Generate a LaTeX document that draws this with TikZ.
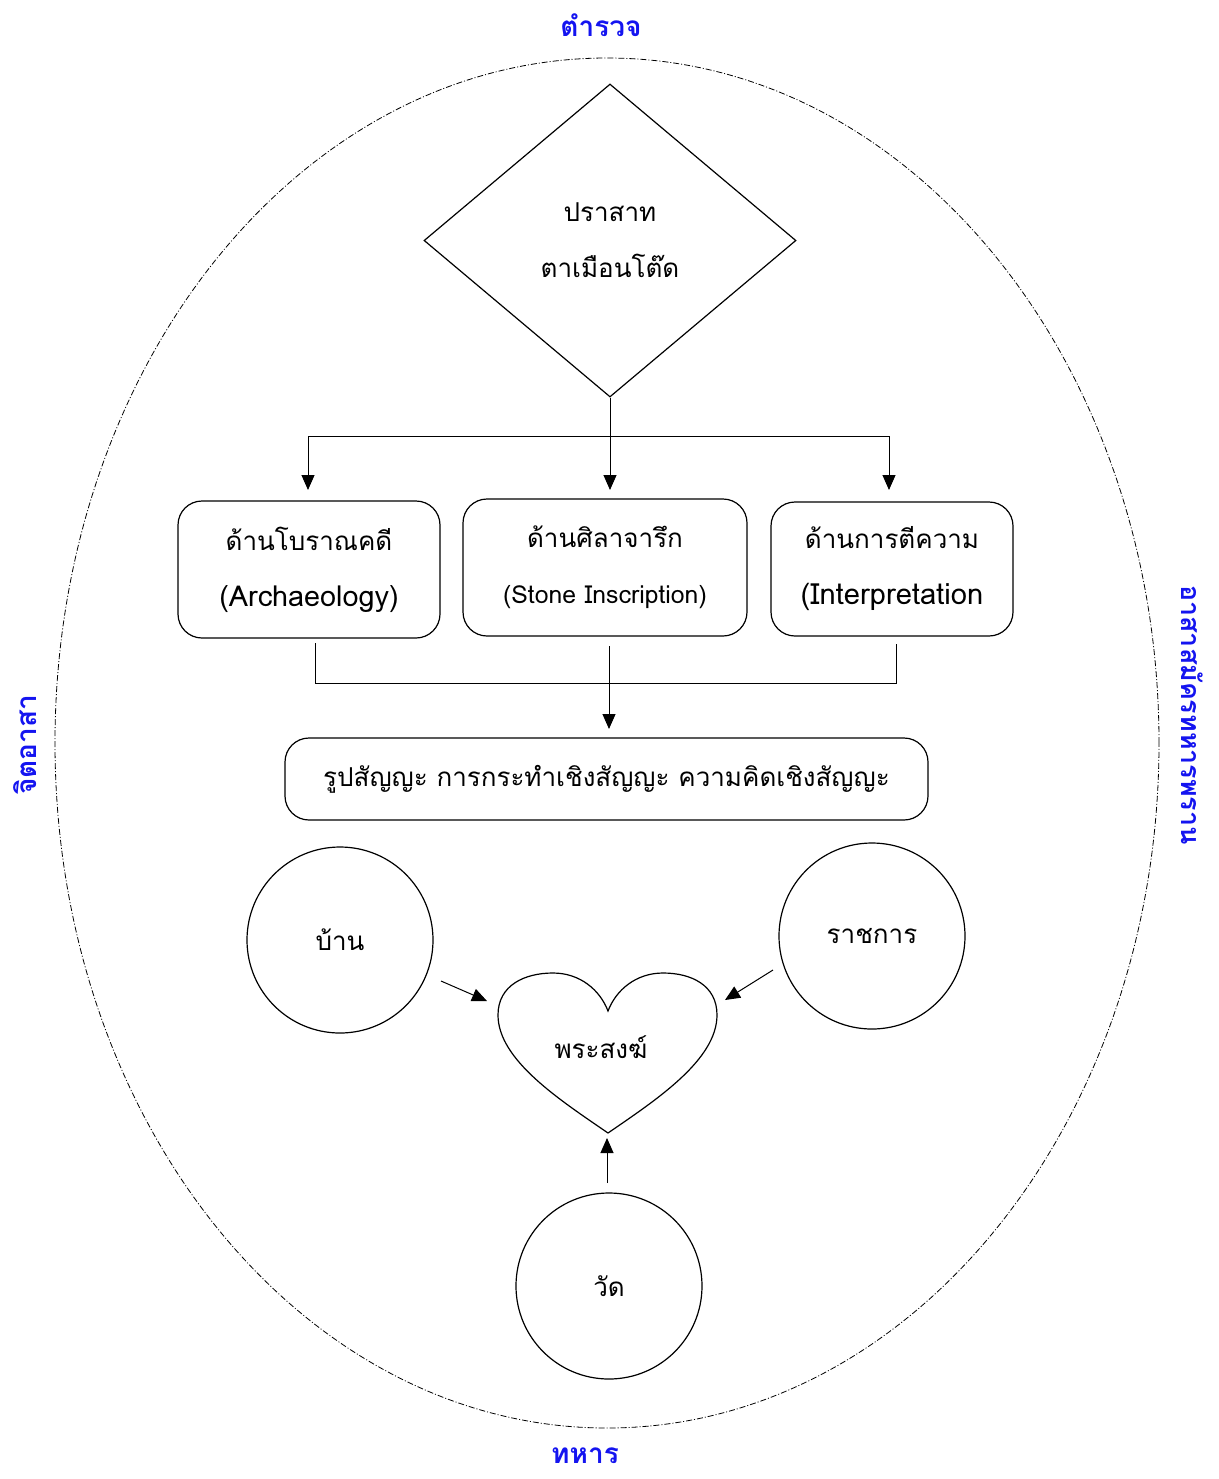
\documentclass[tikz,border=0pt]{standalone}
\usepackage{fontspec}
\newfontfamily\thai[Script=Thai]{Loma}
\usetikzlibrary{arrows.meta,shapes.geometric}
\definecolor{lblue}{RGB}{20,20,240}
\begin{document}
\begin{tikzpicture}[x=0.5pt,y=-0.5pt,
  every node/.style={font=\thai\fontsize{13}{28}\selectfont},
  arr/.style={-{Triangle[length=7.5pt,width=6.5pt]}, line width=0.5pt},
  conn/.style={line width=0.5pt},
  rbox/.style={draw, rounded corners=12pt, line width=0.6pt, align=center, inner sep=0pt},
  circ/.style={draw, circle, minimum size=93pt, line width=0.6pt, inner sep=0pt},
  lab/.style={font=\thai\bfseries\fontsize{14}{16}\selectfont, text=lblue},
  latin/.style={}
]
\useasboundingbox (0,0) rectangle (1219,1479);
\draw[line width=0.4pt, dash pattern=on 3pt off 1pt on 0.5pt off 1pt] (607,743) ellipse [x radius=276pt, y radius=342.5pt];

\node[draw, diamond, minimum width=186pt, minimum height=156.5pt, inner sep=0pt, line width=0.6pt, align=center] (dia) at (610,240.5) {ปราสาท\\ตาเมือนโต๊ด};

\node[rbox, minimum width=131pt, minimum height=68.5pt] (b1) at (309,569.5) {ด้านโบราณคดี\\{\fontsize{14.4}{28}\selectfont (Archaeology)}};
\node[rbox, minimum width=142pt, minimum height=68.5pt] (b2) at (605,567.5) {ด้านศิลาจารึก\\{\fontsize{12.4}{28}\selectfont (Stone Inscription)}};
\node[rbox, minimum width=121pt, minimum height=67pt] (b3) at (892,569) {ด้านการตีความ\\{\fontsize{14.6}{28}\selectfont (Interpretation}};
\node[rbox, minimum width=321.5pt, minimum height=41pt] (b4) at (606.5,779) {รูปสัญญะ การกระทำเชิงสัญญะ ความคิดเชิงสัญญะ};

\node[circ] (ban) at (340,940) {บ้าน};
\node[circ] (rat) at (872,936) {ราชการ};
\node[circ] (wat) at (609,1286) {วัด};

\draw[line width=0.6pt] (608,1133) .. controls (560,1100) and (498,1060) .. (498,1015)
  .. controls (498,985) and (525,973) .. (553,973)
  .. controls (580,973) and (600,990) .. (608,1011)
  .. controls (616,990) and (636,973) .. (663,973)
  .. controls (691,973) and (717,985) .. (717,1015)
  .. controls (717,1060) and (656,1100) .. (608,1133) -- cycle;
\node (heart) at (601,1047) {พระสงฆ์};

\node[lab] (north) at (601,25) {ตำรวจ};
\node[lab] (south) at (585,1456) {ทหาร};
\node[lab, rotate=90] (west) at (25,745) {จิตอาสา};
\node[lab, rotate=-90, font=\thai\bfseries\fontsize{13.4}{16}\selectfont] (east) at (1192,715) {อาสาสมัครทหารพราน};

\coordinate (jl) at (308,436);
\coordinate (jr) at (889,436);
\coordinate (t1) at (308,490);
\coordinate (t2) at (610,490);
\coordinate (t3) at (889,490);
\draw[arr] (dia.south) -- (t2);
\draw[conn] (jl) -- (jr);
\draw[arr] (jl) -- (t1);
\draw[arr] (jr) -- (t3);

\coordinate (s1) at (315,643);
\coordinate (s1b) at (315,683);
\coordinate (s3) at (896,644);
\coordinate (s3b) at (896,683);
\coordinate (s2) at (609,646);
\coordinate (t4) at (609,729);
\draw[conn] (s1) -- (s1b) -- (s3b) -- (s3);
\draw[arr] (s2) -- (t4);

\coordinate (h1) at (487,1001);
\coordinate (h2) at (725,1000);
\coordinate (h3) at (607,1138);
\coordinate (a1) at (441,981);
\coordinate (a2) at (773,970);
\coordinate (a3) at (607,1183);
\draw[arr] (a1) -- (h1);
\draw[arr] (a2) -- (h2);
\draw[arr] (a3) -- (h3);
\end{tikzpicture}
\end{document}
